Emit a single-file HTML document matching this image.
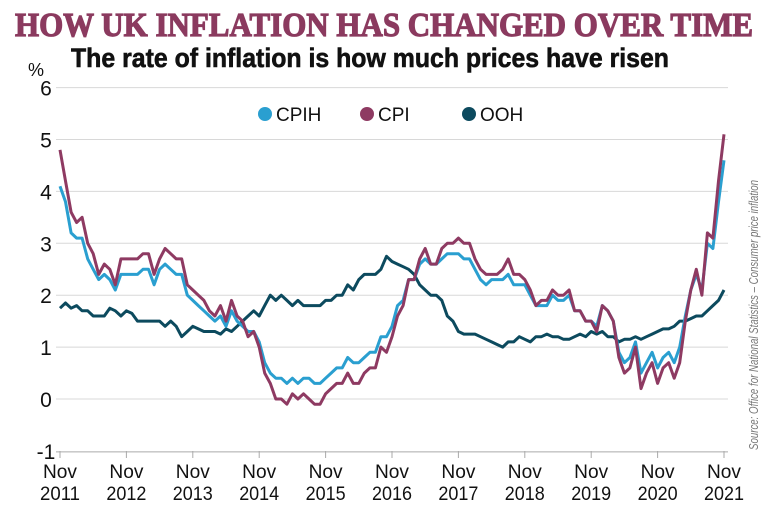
<!DOCTYPE html>
<html><head><meta charset="utf-8"><style>
html,body{margin:0;padding:0;background:#fff;}
svg{display:block;}
</style></head><body>
<svg id="s" width="768" height="512" xmlns="http://www.w3.org/2000/svg" font-family="'Liberation Sans', sans-serif">
<text x="384" y="36" text-anchor="middle" font-family="'Liberation Serif', serif" font-weight="bold" font-size="34" fill="#8b3a5f" stroke="#8b3a5f" stroke-width="1.2" textLength="738" lengthAdjust="spacingAndGlyphs">HOW UK INFLATION HAS CHANGED OVER TIME</text>
<text x="370" y="67" text-anchor="middle" font-weight="bold" font-size="27" fill="#111" stroke="#111" stroke-width="0.6" textLength="598" lengthAdjust="spacingAndGlyphs">The rate of inflation is how much prices have risen</text>
<text x="28" y="76" font-size="18" fill="#111">%</text>
<g id="grid" stroke="#d8d8d8" stroke-width="1"></g>
<g id="ylab" font-size="21" fill="#111" text-anchor="middle"></g>
<g id="xlab" font-size="19" fill="#111" text-anchor="middle"></g>
<g font-size="19" fill="#111">
<circle cx="265" cy="114" r="7" fill="#2a9fd0"/><text x="276" y="121">CPIH</text>
<circle cx="367" cy="114" r="7" fill="#8e3a62"/><text x="378" y="121">CPI</text>
<circle cx="469" cy="114" r="7" fill="#0c4a5e"/><text x="480" y="121">OOH</text>
</g>
<text transform="translate(758,450) rotate(-90)" font-size="13" font-style="italic" fill="#777" textLength="270" lengthAdjust="spacingAndGlyphs">Source: Office for National Statistics – Consumer price inflation</text>
<g id="lines" fill="none" stroke-width="3" stroke-linejoin="round"></g>
</svg>
<script>
var ns="http://www.w3.org/2000/svg";
function el(t,a,p,txt){var e=document.createElementNS(ns,t);for(var k in a)e.setAttribute(k,a[k]);if(txt!=null)e.textContent=txt;document.getElementById(p).appendChild(e);return e;}
function Y(v){return 399-v*51.9;}
for(var v=-1;v<=6;v++){
 var y=Y(v);
 if(v==-1) el('line',{x1:56,x2:728,y1:y+1,y2:y+1,stroke:'#aaa'},'grid');
 else el('line',{x1:56,x2:728,y1:y,y2:y},'grid');
 el('text',{x:46,y:y+8},'ylab',String(v));
}
for(var i=0;i<=10;i++){
 var x=60+i*66.4;
 el('line',{x1:x,x2:x,y1:451,y2:458,stroke:'#aaa'},'grid');
 el('text',{x:x,y:478,textLength:34,lengthAdjust:'spacingAndGlyphs'},'xlab','Nov');
 el('text',{x:x,y:500,textLength:40,lengthAdjust:'spacingAndGlyphs'},'xlab',String(2011+i));
}
var cpi=[4.8,4.2,3.6,3.4,3.5,3.0,2.8,2.4,2.6,2.5,2.2,2.7,2.7,2.7,2.7,2.8,2.8,2.4,2.7,2.9,2.8,2.7,2.7,2.2,2.1,2.0,1.9,1.7,1.6,1.8,1.5,1.9,1.6,1.5,1.2,1.3,1.0,0.5,0.3,0.0,0.0,-0.1,0.1,0.0,0.1,0.0,-0.1,-0.1,0.1,0.2,0.3,0.3,0.5,0.3,0.3,0.5,0.6,0.6,1.0,0.9,1.2,1.6,1.8,2.3,2.3,2.7,2.9,2.6,2.6,2.9,3.0,3.0,3.1,3.0,3.0,2.7,2.5,2.4,2.4,2.4,2.5,2.7,2.4,2.4,2.3,2.1,1.8,1.9,1.9,2.1,2.0,2.0,2.1,1.7,1.7,1.5,1.5,1.3,1.8,1.7,1.5,0.8,0.5,0.6,1.0,0.2,0.5,0.7,0.3,0.6,0.7,0.4,0.7,1.5,2.1,2.5,2.0,3.2,3.1,4.2,5.1];
var cpih=[4.1,3.8,3.2,3.1,3.1,2.7,2.5,2.3,2.4,2.3,2.1,2.4,2.4,2.4,2.4,2.5,2.5,2.2,2.5,2.6,2.5,2.4,2.4,2.0,1.9,1.8,1.7,1.6,1.5,1.6,1.4,1.7,1.5,1.4,1.3,1.3,1.1,0.7,0.5,0.4,0.4,0.3,0.4,0.3,0.4,0.4,0.3,0.3,0.4,0.5,0.6,0.6,0.8,0.7,0.7,0.8,0.9,0.9,1.2,1.2,1.4,1.8,1.9,2.3,2.3,2.6,2.7,2.6,2.6,2.7,2.8,2.8,2.8,2.7,2.7,2.5,2.3,2.2,2.3,2.3,2.3,2.4,2.2,2.2,2.2,2.0,1.8,1.8,1.8,2.0,1.9,1.9,2.0,1.7,1.7,1.5,1.5,1.4,1.8,1.7,1.5,0.9,0.7,0.8,1.1,0.5,0.7,0.9,0.6,0.8,0.9,0.7,1.0,1.6,2.1,2.4,2.1,3.0,2.9,3.8,4.6];
var ooh=[1.75,1.85,1.75,1.8,1.7,1.7,1.6,1.6,1.6,1.75,1.7,1.6,1.7,1.65,1.5,1.5,1.5,1.5,1.5,1.4,1.5,1.4,1.2,1.3,1.4,1.35,1.3,1.3,1.3,1.25,1.35,1.3,1.4,1.5,1.6,1.7,1.6,1.8,2.0,1.9,2.0,1.9,1.8,1.9,1.8,1.8,1.8,1.8,1.9,1.9,2.0,2.0,2.2,2.1,2.3,2.4,2.4,2.4,2.5,2.75,2.65,2.6,2.55,2.5,2.4,2.2,2.1,2.0,2.0,1.9,1.6,1.5,1.3,1.25,1.25,1.25,1.2,1.15,1.1,1.05,1.0,1.1,1.1,1.2,1.15,1.1,1.2,1.2,1.25,1.2,1.2,1.15,1.15,1.2,1.25,1.2,1.3,1.25,1.3,1.2,1.2,1.1,1.15,1.15,1.2,1.15,1.2,1.25,1.3,1.35,1.35,1.4,1.5,1.5,1.55,1.6,1.6,1.7,1.8,1.9,2.1];
function line(d,c){var p=d.map(function(v,i){return (60+i*664/120).toFixed(1)+','+Y(v).toFixed(1);}).join(' ');el('polyline',{points:p,stroke:c},'lines');}
line(ooh,'#0c4a5e');line(cpih,'#2a9fd0');line(cpi,'#8e3a62');
</script>
</body></html>
